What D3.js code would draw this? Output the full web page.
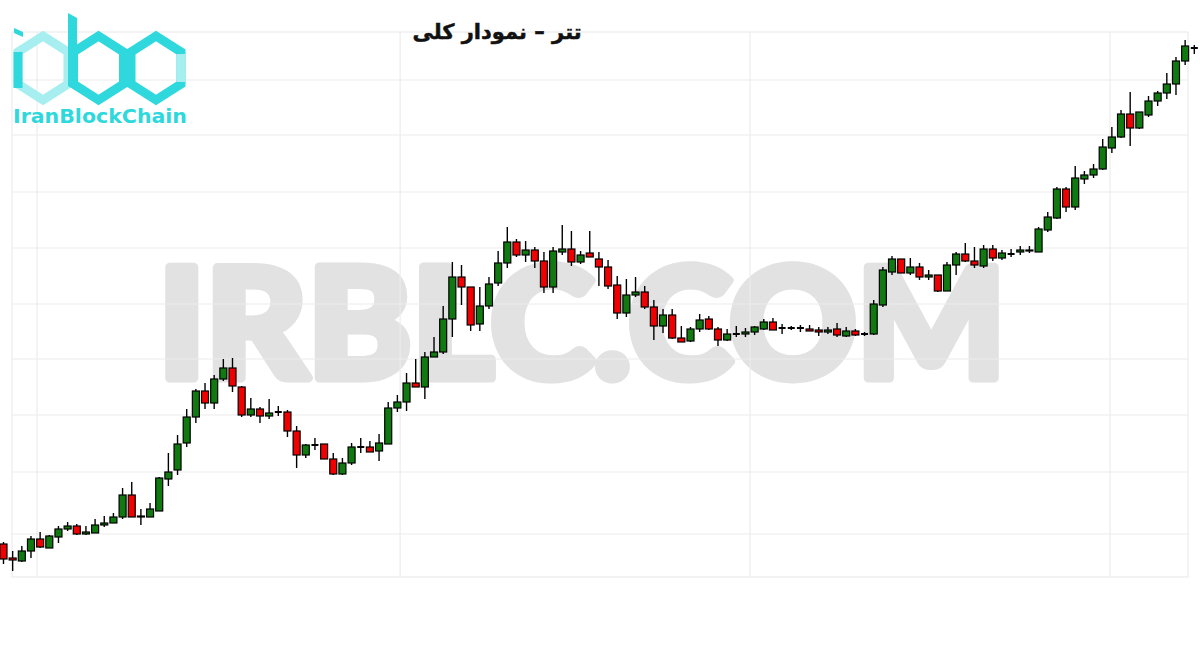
<!DOCTYPE html>
<html>
<head>
<meta charset="utf-8">
<script src="https://cdn.jsdelivr.net/npm/d3@7"></script>
<style>
  body { margin: 0; background: #fff; }
</style>
</head>
<body>
<div id="chart"></div>
<script>
  // candle values, oldest first
  var opens = [56,42,39,49,61,52,63,71,74,66,67,75,77,83,105,83,83,89,121,130,157,183,209,197,221,232,213,185,191,184,188,188,169,145,155,156,141,126,137,153,153,149,156,192,198,217,213,243,248,281,323,313,276,294,317,337,358,345,350,339,313,348,351,338,347,341,333,315,287,305,308,293,274,285,262,259,271,281,271,260,266,266,268,271,278,272,272,272,271,270,268,271,264,269,266,266,295,328,341,327,333,323,325,309,335,346,339,334,351,342,346,348,349,348,370,382,411,393,421,425,431,452,463,486,472,485,499,507,516,539,552];
  var highs = [58,49,54,64,68,65,74,78,76,74,81,84,87,112,118,91,97,123,147,165,191,211,217,225,241,242,214,202,193,201,194,190,174,156,162,156,147,142,157,162,159,166,198,205,227,241,248,263,294,338,335,313,313,323,349,373,361,359,353,348,353,375,369,349,369,348,340,324,321,323,314,300,291,291,274,273,286,284,273,271,274,272,274,281,282,276,274,275,275,273,273,277,273,271,268,300,333,344,341,342,337,330,325,338,348,357,353,355,355,350,351,354,354,373,388,413,413,434,429,436,461,473,490,508,488,504,509,527,543,560,555];
  var lows = [36,29,38,42,52,52,57,69,65,65,67,73,77,81,83,75,83,89,114,125,153,177,191,191,219,208,183,183,177,181,184,163,132,142,150,141,125,125,135,147,148,139,156,188,189,213,201,243,246,263,295,269,269,291,314,332,343,338,332,307,307,345,334,336,343,314,311,281,283,303,291,260,267,261,258,258,268,270,254,259,263,263,265,270,270,266,270,268,269,264,266,263,263,264,264,265,293,325,327,325,320,320,308,309,325,338,332,332,339,340,343,345,347,348,368,381,388,390,416,422,430,447,462,454,471,483,494,501,505,535,546];
  var closes = [41,40,49,61,53,64,71,74,66,68,75,77,83,105,83,84,91,122,128,156,183,209,197,221,232,214,185,191,184,187,188,169,145,155,155,141,126,137,153,153,148,157,192,198,217,213,243,248,281,323,313,275,294,316,337,358,345,350,339,313,349,351,338,345,343,333,314,287,305,308,293,274,285,262,258,271,280,271,260,266,266,268,273,278,270,272,272,272,269,268,270,265,269,265,266,296,330,341,327,333,323,325,309,335,346,339,335,351,342,347,346,350,350,371,383,411,393,422,425,431,453,463,486,472,488,499,507,516,539,554,552];

  // faint grid, in value units and candle index units
  var yGrid = [520, 465, 408, 352, 296, 241, 185, 128, 66];
  var xGrid = [3.66, 43.3, 81.5, 120.8];

  var title = 'تتر  –  نمودار کلی';
  var watermark = 'IRBLC.COM';
  var logoText = 'IranBlockChain';

  var width = 1200;
  var height = 650;

  var candles = opens.map(function(o, i) {
    return { i: i, open: o, high: highs[i], low: lows[i], close: closes[i] };
  });

  var svg = d3.select('#chart')
    .append('svg')
    .attr('width', width)
    .attr('height', height)
    .style('font-family', 'DejaVu Sans, sans-serif');

  var frame = { left: 12, right: 1188, top: 32, bottom: 577 };

  var x = d3.scaleLinear()
    .domain([0, candles.length - 1])
    .range([3.5, 1194.3]);

  var y = d3.scaleLinear()
    .domain([23, 568])
    .range([frame.bottom, frame.top]);

  // big grey watermark, sits under grid and candles
  // (a same-colour stroke makes the letters as heavy as the original)
  svg.append('text')
    .attr('x', 158)
    .attr('y', 378)
    .attr('textLength', 848)
    .attr('lengthAdjust', 'spacingAndGlyphs')
    .style('font-family', 'Lato, DejaVu Sans, sans-serif')
    .style('font-size', '152px')
    .style('font-weight', 900)
    .style('fill', '#e2e2e2')
    .style('stroke', '#e2e2e2')
    .style('stroke-width', 9)
    .style('stroke-linejoin', 'round')
    .text(watermark);

  var grid = svg.append('g')
    .attr('stroke', '#ececec')
    .attr('stroke-width', 1.2);

  grid.selectAll('.hgrid')
    .data(yGrid)
    .enter()
      .append('line')
      .attr('x1', frame.left)
      .attr('x2', frame.right)
      .attr('y1', function(d) { return y(d); })
      .attr('y2', function(d) { return y(d); });

  grid.selectAll('.vgrid')
    .data(xGrid)
    .enter()
      .append('line')
      .attr('x1', function(d) { return x(d); })
      .attr('x2', function(d) { return x(d); })
      .attr('y1', frame.top)
      .attr('y2', frame.bottom);

  grid.append('rect')
    .attr('x', frame.left)
    .attr('y', frame.top)
    .attr('width', frame.right - frame.left)
    .attr('height', frame.bottom - frame.top)
    .attr('fill', 'none');

  var bodyW = 7;

  var candle = svg.selectAll('.candle')
    .data(candles)
    .enter()
      .append('g')
      .attr('class', 'candle');

  candle.append('line')
    .attr('x1', function(d) { return x(d.i); })
    .attr('x2', function(d) { return x(d.i); })
    .attr('y1', function(d) { return y(d.high); })
    .attr('y2', function(d) { return y(d.low); })
    .attr('stroke', '#000')
    .attr('stroke-width', 1.4);

  candle.filter(function(d) { return d.open !== d.close; })
    .append('rect')
    .attr('x', function(d) { return x(d.i) - bodyW / 2; })
    .attr('y', function(d) { return y(Math.max(d.open, d.close)); })
    .attr('width', bodyW)
    .attr('height', function(d) { return Math.abs(y(d.open) - y(d.close)); })
    .attr('fill', function(d) { return d.close > d.open ? '#107a10' : '#f00000'; })
    .attr('stroke', '#000')
    .attr('stroke-width', 1.2);

  // doji: just a flat tick
  candle.filter(function(d) { return d.open === d.close; })
    .append('line')
    .attr('x1', function(d) { return x(d.i) - bodyW / 2; })
    .attr('x2', function(d) { return x(d.i) + bodyW / 2; })
    .attr('y1', function(d) { return y(d.open); })
    .attr('y2', function(d) { return y(d.open); })
    .attr('stroke', '#000')
    .attr('stroke-width', 2);

  svg.append('text')
    .attr('x', 497)
    .attr('y', 39)
    .attr('text-anchor', 'middle')
    .attr('direction', 'rtl')
    .style('font-size', '21px')
    .style('font-weight', 'bold')
    .style('fill', '#111')
    .style('stroke', '#111')
    .style('stroke-width', 0.5)
    .text(title);

  // logo: three hexagons plus name
  var dark = '#2ed8dc';
  var light = '#a6eef0';
  var rx = 25, ry = 32, cy = 68;

  function hex(cx) {
    return [[cx, cy - ry], [cx + rx, cy - ry / 2], [cx + rx, cy + ry / 2],
            [cx, cy + ry], [cx - rx, cy + ry / 2], [cx - rx, cy - ry / 2]];
  }

  var logo = svg.append('g')
    .attr('fill', 'none')
    .attr('stroke-width', 9)
    .attr('stroke-linejoin', 'miter');

  logo.append('polygon')
    .attr('points', hex(43).join(' '))
    .attr('stroke', light);

  logo.append('polygon')
    .attr('points', hex(98.5).join(' '))
    .attr('stroke', dark);

  logo.append('polygon')
    .attr('points', hex(156).join(' '))
    .attr('stroke', dark);

  logo.append('line')
    .attr('x1', 156 + rx).attr('x2', 156 + rx)
    .attr('y1', cy - ry / 2 + 2).attr('y2', cy + ry / 2 - 2)
    .attr('stroke', light);

  // i stem and dot
  logo.append('line')
    .attr('x1', 43 - rx).attr('x2', 43 - rx)
    .attr('y1', cy - ry / 2).attr('y2', cy + ry / 2 + 4)
    .attr('stroke', dark);

  logo.append('polygon')
    .attr('points', '14,28 23,32 23,37 14,33')
    .attr('fill', dark)
    .attr('stroke', 'none');

  // b stem
  logo.append('polygon')
    .attr('points', '68,13 77,18 77,90 68,86')
    .attr('fill', dark)
    .attr('stroke', 'none');

  svg.append('text')
    .attr('x', 13)
    .attr('y', 123)
    .attr('textLength', 174)
    .attr('lengthAdjust', 'spacingAndGlyphs')
    .style('font-size', '19px')
    .style('font-weight', 'bold')
    .style('fill', dark)
    .text(logoText);
</script>
</body>
</html>
